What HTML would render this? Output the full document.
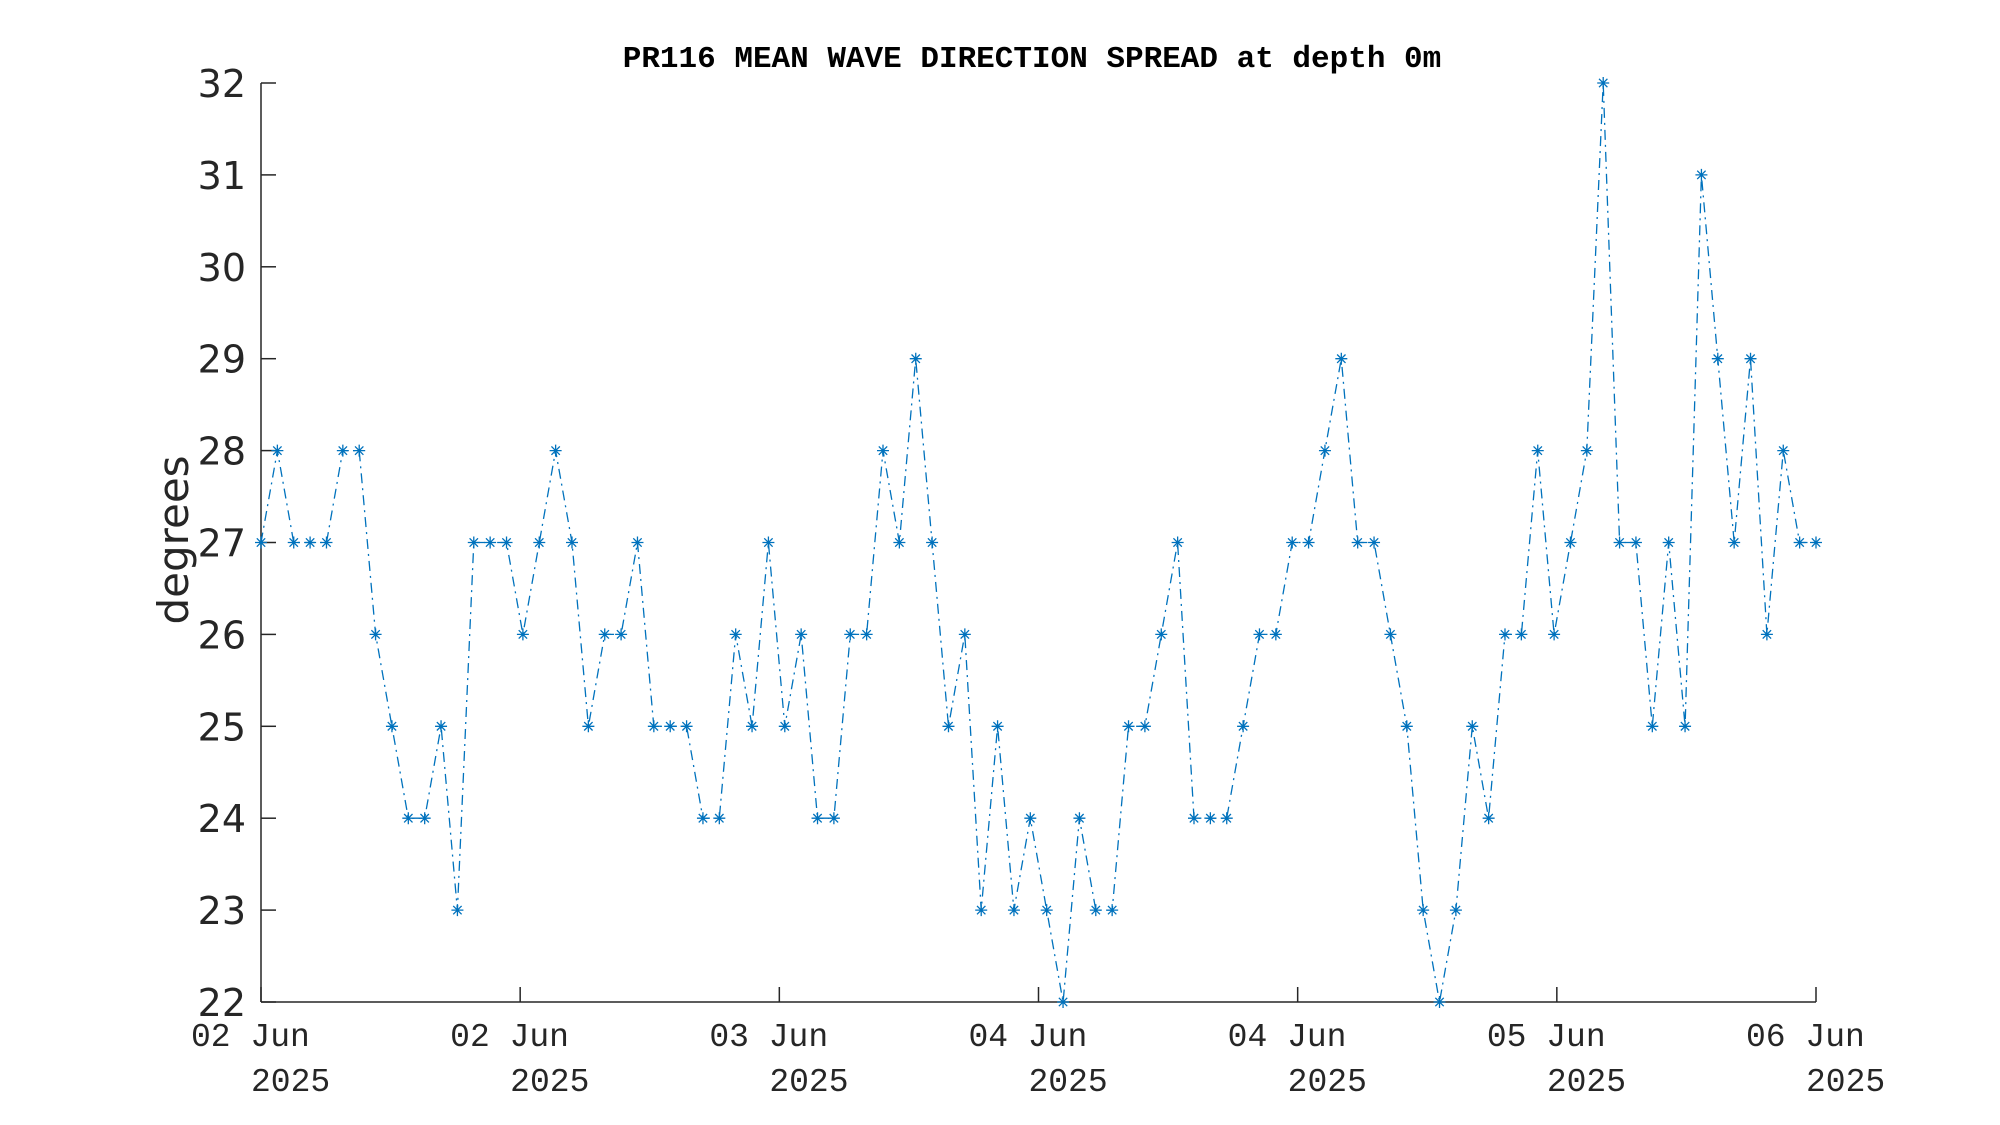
<!DOCTYPE html>
<html><head><meta charset="utf-8"><style>
html,body{margin:0;padding:0;background:#fff;}
svg{display:block;}
</style></head><body>
<svg id="chart" width="2000" height="1125" xmlns="http://www.w3.org/2000/svg">
<rect width="2000" height="1125" fill="#fff"/>
<text x="1032" y="67" text-anchor="middle" font-family="Liberation Mono, monospace" font-weight="bold" font-size="31" fill="#000">PR116 MEAN WAVE DIRECTION SPREAD at depth 0m</text>
<text transform="translate(188,540) rotate(-90)" text-anchor="middle" font-family="DejaVu Sans, sans-serif" font-size="42" fill="#262626">degrees</text>
<g id="axes"></g>
<g id="series"></g>
</svg>
<script>
const values = [27,28,27,27,27,28,28,26,25,24,
24,25,23,27,27,27,26,27,28,27,
25,26,26,27,25,25,25,24,24,26,
25,27,25,26,24,24,26,26,28,27,
29,27,25,26,23,25,23,24,23,22,
24,23,23,25,25,26,27,24,24,24,
25,26,26,27,27,28,29,27,27,26,
25,23,22,23,25,24,26,26,28,26,
27,28,32,27,27,25,27,25,31,29,
27,29,26,28,27,27];
const yTicks = [22,23,24,25,26,27,28,29,30,31,32];
const xTickLabels = ["02 Jun","02 Jun","03 Jun","04 Jun","04 Jun","05 Jun","06 Jun"];
const xTickYear = ["2025","2025","2025","2025","2025","2025","2025"];

const L=261,R=1816,T=83,B=1002;
const yMin=22,yMax=32;
const n=values.length;
function xs(i){return L+(R-L)*i/(n-1);}
function ys(v){return B-(B-T)*(v-yMin)/(yMax-yMin);}
const NS="http://www.w3.org/2000/svg";
function mk(tag,attrs,parent){const e=document.createElementNS(NS,tag);for(const k in attrs)e.setAttribute(k,attrs[k]);parent.appendChild(e);return e;}
const axes=document.getElementById('axes');
const series=document.getElementById('series');
let e;
e=mk('line',{x1:L,y1:T,x2:L,y2:B,stroke:'#262626','stroke-width':1.5},axes);


e=mk('line',{x1:L,y1:B,x2:R,y2:B,stroke:'#262626','stroke-width':1.5},axes);


yTicks.forEach(v=>{
  const y=ys(v);
  let t=mk('line',{x1:L,y1:y,x2:L+15,y2:y,stroke:'#262626','stroke-width':1.5},axes);
  
  
  let tx=mk('text',{x:246,y:y+14,'text-anchor':'end','font-family':'DejaVu Sans, sans-serif','font-size':38,fill:'#262626'},axes);
  tx.textContent=v;
  
  
});
xTickLabels.forEach((lab,k)=>{
  const x=L+(R-L)*k/(xTickLabels.length-1);
  let t=mk('line',{x1:x,y1:B,x2:x,y2:B-15,stroke:'#262626','stroke-width':1.5},axes);
  
  
  let a=mk('text',{x:x-70,y:1046,'font-family':'Liberation Mono, monospace','font-size':33,fill:'#262626'},axes);
  a.textContent=lab;
  
  
  let b=mk('text',{x:x-10,y:1091,'font-family':'Liberation Mono, monospace','font-size':33,fill:'#262626'},axes);
  b.textContent=xTickYear[k];
  
  
});
const pts=values.map((v,i)=>xs(i).toFixed(1)+','+ys(v).toFixed(1)).join(' ');
e=mk('polyline',{points:pts,fill:'none',stroke:'#0072BD','stroke-width':1.3,'stroke-dasharray':'10 5 2 5'},series);


values.forEach((v,i)=>{
  const x=xs(i),y=ys(v),r=6;
  const g=mk('path',{d:`M${x-r},${y}H${x+r}M${x},${y-r}V${y+r}M${x-r*0.7},${y-r*0.7}L${x+r*0.7},${y+r*0.7}M${x-r*0.7},${y+r*0.7}L${x+r*0.7},${y-r*0.7}`,stroke:'#0072BD','stroke-width':1.3,fill:'none'},series);
  
  
});
</script>
</body></html>
